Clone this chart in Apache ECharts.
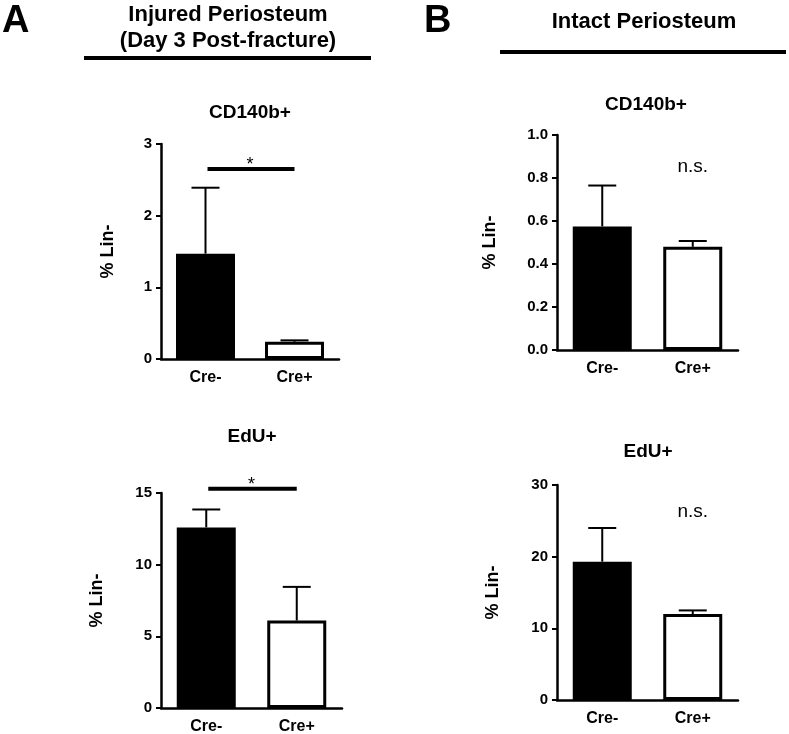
<!DOCTYPE html>
<html>
<head>
<meta charset="utf-8">
<script src="https://cdn.jsdelivr.net/npm/echarts@6/dist/echarts.min.js"></script>
<style>
  body { margin: 0; background: #fff; }
  #main { width: 789px; height: 734px; }
</style>
</head>
<body>
<div id="main"></div>
<script>
// categories
const categories = ['Cre-', 'Cre+'];

// injured periosteum (day 3 post-fracture)
const cd140Injured = [1.47, 0.24];
const cd140InjuredErr = [0.92, 0.02];
const eduInjured = [12.6, 6.1];
const eduInjuredErr = [1.25, 2.35];

// intact periosteum
const cd140Intact = [0.575, 0.48];
const cd140IntactErr = [0.19, 0.027];
const eduIntact = [19.3, 12.0];
const eduIntactErr = [4.7, 0.5];

// y axis ranges
const yMax = [3, 1, 15, 30];
const yStep = [1, 0.2, 5, 10];

// annotations: significance bar height / n.s. height
const sigLevel = [2.65, null, 15.3, null];
const nsLevel = [null, 0.85, null, 26.2];

const FONT = "'Liberation Sans', Arial, Helvetica, sans-serif";

const panels = [
    { mean: cd140Injured, err: cd140InjuredErr, grid: { left: 161, top: 144, width: 178, height: 215 }, nameGap: 44 },
    { mean: cd140Intact, err: cd140IntactErr, grid: { left: 557, top: 135, width: 181, height: 215 }, nameGap: 58 },
    { mean: eduInjured, err: eduInjuredErr, grid: { left: 161, top: 493, width: 181, height: 215 }, nameGap: 55 },
    { mean: eduIntact, err: eduIntactErr, grid: { left: 557, top: 485, width: 181, height: 215 }, nameGap: 55 }
];

function errRender(params, api) {
    const x = api.value(0), m = api.value(1), e = api.value(2);
    const base = api.coord([x, m]);
    const top = api.coord([x, m + e]);
    const hw = 14;
    return {
        type: 'group',
        children: [
            { type: 'line', shape: { x1: base[0], y1: base[1], x2: top[0], y2: top[1] }, style: { stroke: '#000', lineWidth: 2 } },
            { type: 'line', shape: { x1: top[0] - hw, y1: top[1], x2: top[0] + hw, y2: top[1] }, style: { stroke: '#000', lineWidth: 2 } }
        ]
    };
}

function sigRender(params, api) {
    const p0 = api.coord([api.value(0), api.value(2)]);
    const p1 = api.coord([api.value(1), api.value(2)]);
    return {
        type: 'group',
        children: [
            { type: 'line', shape: { x1: p0[0] + 2, y1: p0[1], x2: p1[0], y2: p1[1] }, style: { stroke: '#000', lineWidth: 4 } },
            { type: 'text', x: (p0[0] + p1[0]) / 2, y: p0[1] - 4, style: { text: '*', fill: '#000', font: '18px ' + FONT, align: 'center', verticalAlign: 'middle' } }
        ]
    };
}

function nsRender(params, api) {
    const p = api.coord([api.value(0), api.value(1)]);
    return {
        type: 'text', x: p[0], y: p[1],
        style: { text: 'n.s.', fill: '#000', font: '19px ' + FONT, align: 'center', verticalAlign: 'middle' }
    };
}

const grids = [], xAxes = [], yAxes = [], series = [];
panels.forEach(function (p, i) {
    grids.push(Object.assign({ outerBoundsMode: 'none', containLabel: false }, p.grid));
    xAxes.push({
        type: 'category', gridIndex: i, data: categories,
        axisLine: { lineStyle: { color: '#000', width: 2.5 } },
        axisTick: { alignWithLabel: true, length: 5, lineStyle: { color: '#000', width: 2 } },
        axisLabel: { color: '#000', fontFamily: FONT, fontWeight: 'bold', fontSize: 16, margin: 11 }
    });
    yAxes.push({
        type: 'value', gridIndex: i, min: 0, max: yMax[i], interval: yStep[i],
        name: '% Lin-', nameLocation: 'middle', nameRotate: 90, nameGap: p.nameGap,
        nameTextStyle: { color: '#000', fontFamily: FONT, fontWeight: 'bold', fontSize: 18 },
        axisLine: { show: true, lineStyle: { color: '#000', width: 2.5 } },
        axisTick: { show: true, length: 5, lineStyle: { color: '#000', width: 2 } },
        splitLine: { show: false },
        axisLabel: {
            color: '#000', fontFamily: FONT, fontWeight: 'bold', fontSize: 15, margin: 9,
            formatter: function (v) { return yStep[i] < 1 ? v.toFixed(1) : String(v); }
        }
    });
    series.push({
        type: 'bar', xAxisIndex: i, yAxisIndex: i, barWidth: 59,
        data: p.mean.map(function (v, k) {
            return { value: v, itemStyle: { color: k === 0 ? '#000' : '#fff', borderColor: '#000', borderWidth: 3 } };
        })
    });
    series.push({
        type: 'custom', xAxisIndex: i, yAxisIndex: i, renderItem: errRender, z: 3,
        encode: { x: 0, y: 1 },
        data: p.mean.map(function (v, k) { return [k, v, p.err[k]]; })
    });
    if (sigLevel[i] != null) {
        series.push({
            type: 'custom', xAxisIndex: i, yAxisIndex: i, renderItem: sigRender, clip: false,
            encode: { x: [0, 1], y: 2 },
            data: [[0, 1, sigLevel[i]]]
        });
    }
    if (nsLevel[i] != null) {
        series.push({
            type: 'custom', xAxisIndex: i, yAxisIndex: i, renderItem: nsRender, clip: false,
            encode: { x: 0, y: 1 },
            data: [[1, nsLevel[i]]]
        });
    }
});

function label(text, x, y, size, weight, align) {
    return {
        type: 'text', x: x, y: y,
        style: { text: text, fill: '#000', font: weight + ' ' + size + 'px ' + FONT, align: align || 'center', verticalAlign: 'middle' }
    };
}

const myChart = echarts.init(document.getElementById('main'));
const option = {
    animation: false,
    backgroundColor: '#fff',
    grid: grids,
    xAxis: xAxes,
    yAxis: yAxes,
    series: series,
    graphic: [
        label('A', 2, 22, 38, 'bold', 'left'),
        label('B', 424, 22, 38, 'bold', 'left'),
        label('Injured Periosteum', 228, 15, 22, 'bold'),
        label('(Day 3 Post-fracture)', 228, 41, 22, 'bold'),
        label('Intact Periosteum', 644, 22, 22, 'bold'),
        { type: 'line', shape: { x1: 84, y1: 58, x2: 371, y2: 58 }, style: { stroke: '#000', lineWidth: 4 } },
        { type: 'line', shape: { x1: 500, y1: 52, x2: 786, y2: 52 }, style: { stroke: '#000', lineWidth: 4 } },
        label('CD140b+', 250, 113, 19, 'bold'),
        label('CD140b+', 646, 105, 19, 'bold'),
        label('EdU+', 252, 437, 19, 'bold'),
        label('EdU+', 648, 452, 19, 'bold')
    ]
};
myChart.setOption(option);
</script>
</body>
</html>
